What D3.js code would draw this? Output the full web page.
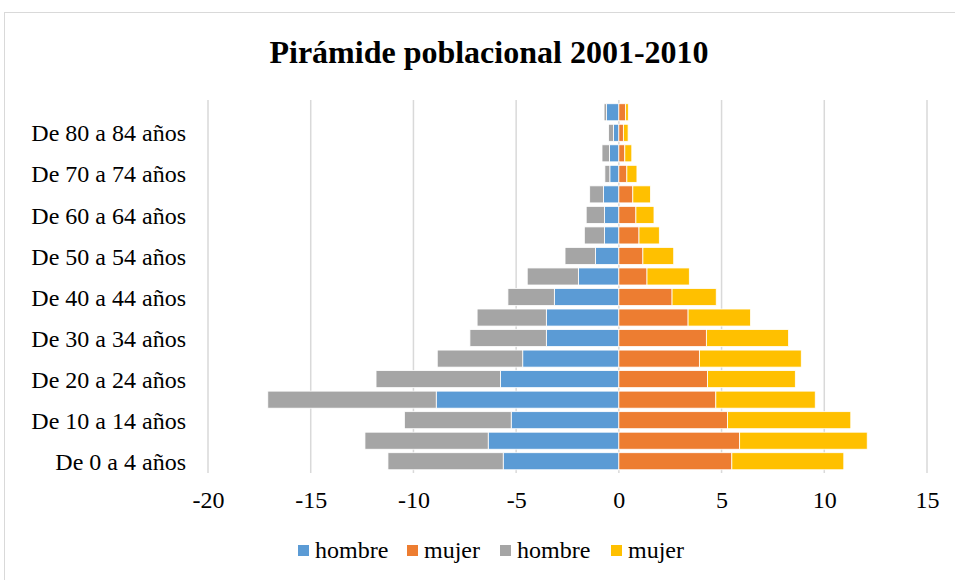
<!DOCTYPE html>
<html><head><meta charset="utf-8">
<script src="https://cdn.jsdelivr.net/npm/d3@7"></script>
<style>html,body{margin:0;padding:0;background:#fff;}svg{display:block;}</style>
</head><body>
<script>
const categories = ["De 0 a 4 años","De 5 a 9 años","De 10 a 14 años","De 15 a 19 años","De 20 a 24 años","De 25 a 29 años","De 30 a 34 años","De 35 a 39 años","De 40 a 44 años","De 45 a 49 años","De 50 a 54 años","De 55 a 59 años","De 60 a 64 años","De 65 a 69 años","De 70 a 74 años","De 75 a 79 años","De 80 a 84 años","De 85 y más años"];
const hombre1 = [5.63, 6.36, 5.24, 8.89, 5.76, 4.68, 3.53, 3.53, 3.14, 1.97, 1.14, 0.70, 0.70, 0.75, 0.44, 0.46, 0.26, 0.60];
const mujer1  = [5.50, 5.88, 5.29, 4.72, 4.32, 3.92, 4.26, 3.37, 2.59, 1.37, 1.17, 0.98, 0.83, 0.68, 0.39, 0.29, 0.22, 0.33];
const hombre2 = [5.61, 6.00, 5.20, 8.20, 6.06, 4.16, 3.72, 3.37, 2.26, 2.49, 1.48, 0.98, 0.89, 0.67, 0.24, 0.36, 0.24, 0.12];
const mujer2  = [5.45, 6.21, 6.00, 4.84, 4.27, 4.96, 4.00, 3.04, 2.15, 2.06, 1.50, 0.99, 0.88, 0.86, 0.49, 0.34, 0.23, 0.13];
const seriesNames = ["hombre","mujer","hombre","mujer"];
const seriesColors = ["#5b9bd5","#ed7d31","#a5a5a5","#ffc000"];
const xTicks = [-20,-15,-10,-5,0,5,10,15];
const title = "Pirámide poblacional 2001-2010";

const FONT = "Liberation Serif";
const W = 955, H = 580;
const svg = d3.select("body").append("svg").attr("width", W).attr("height", H);
svg.append("rect").attr("x",4.5).attr("y",12.5).attr("width",W).attr("height",H).attr("fill","#fff").attr("stroke","#d9d9d9");

svg.append("text").attr("x", 489).attr("y", 63).attr("text-anchor","middle")
  .style("font-family",FONT).style("font-size","32px").style("font-weight","bold").attr("fill","#000").text(title);

const x = d3.scaleLinear().domain([-20,15]).range([208,927]);
const y = d3.scaleBand().domain(categories).range([471.5,102]).paddingInner(0.17).paddingOuter(0.085);

// grid
svg.append("g").selectAll("line").data(xTicks).join("line")
  .attr("x1", d=>x(d)).attr("x2", d=>x(d)).attr("y1", 100).attr("y2", 473)
  .attr("stroke","#d9d9d9").attr("stroke-width",1.5);

const rows = categories.map((c,i)=>({cat:c, s0:-hombre1[i], s1:mujer1[i], s2:-hombre2[i], s3:mujer2[i]}));
const stack = d3.stack().keys(["s0","s1","s2","s3"]).offset(d3.stackOffsetDiverging);
const stacked = stack(rows);

svg.append("g").selectAll("g").data(stacked).join("g")
  .attr("fill",(d,i)=>seriesColors[i])
  .selectAll("rect").data(d=>d).join("rect")
  .attr("x", d=>x(Math.min(d[0],d[1])))
  .attr("width", d=>Math.abs(x(d[1])-x(d[0])))
  .attr("y", d=>y(d.data.cat))
  .attr("height", y.bandwidth())
  .attr("stroke","#fff").attr("stroke-width",0.8);

// y labels (every other)
const yAxis = d3.axisLeft(y).tickValues(categories.filter((c,i)=>i%2===0)).tickSize(0).tickPadding(0);
const gy = svg.append("g").attr("transform","translate(186,0)").call(yAxis);
gy.select(".domain").remove();
gy.selectAll("text").style("font-family",FONT).style("font-size","24px").attr("fill","#000").attr("dy","0.36em");

// x labels
const xAxis = d3.axisBottom(x).tickValues(xTicks).tickSize(0).tickPadding(0).tickFormat(d=>d);
const gx = svg.append("g").attr("transform","translate(0,491)").call(xAxis);
gx.select(".domain").remove();
gx.selectAll("text").style("font-family",FONT).style("font-size","24px").attr("fill","#000");

// legend
const legX = [298, 407, 500, 611];
const leg = svg.append("g");
seriesNames.forEach((n,i)=>{
  leg.append("rect").attr("x",legX[i]).attr("y",545).attr("width",11).attr("height",11).attr("fill",seriesColors[i]);
  leg.append("text").attr("x",legX[i]+17).attr("y",558).style("font-family",FONT).style("font-size","24px").attr("fill","#000").text(n);
});
</script>
</body></html>
